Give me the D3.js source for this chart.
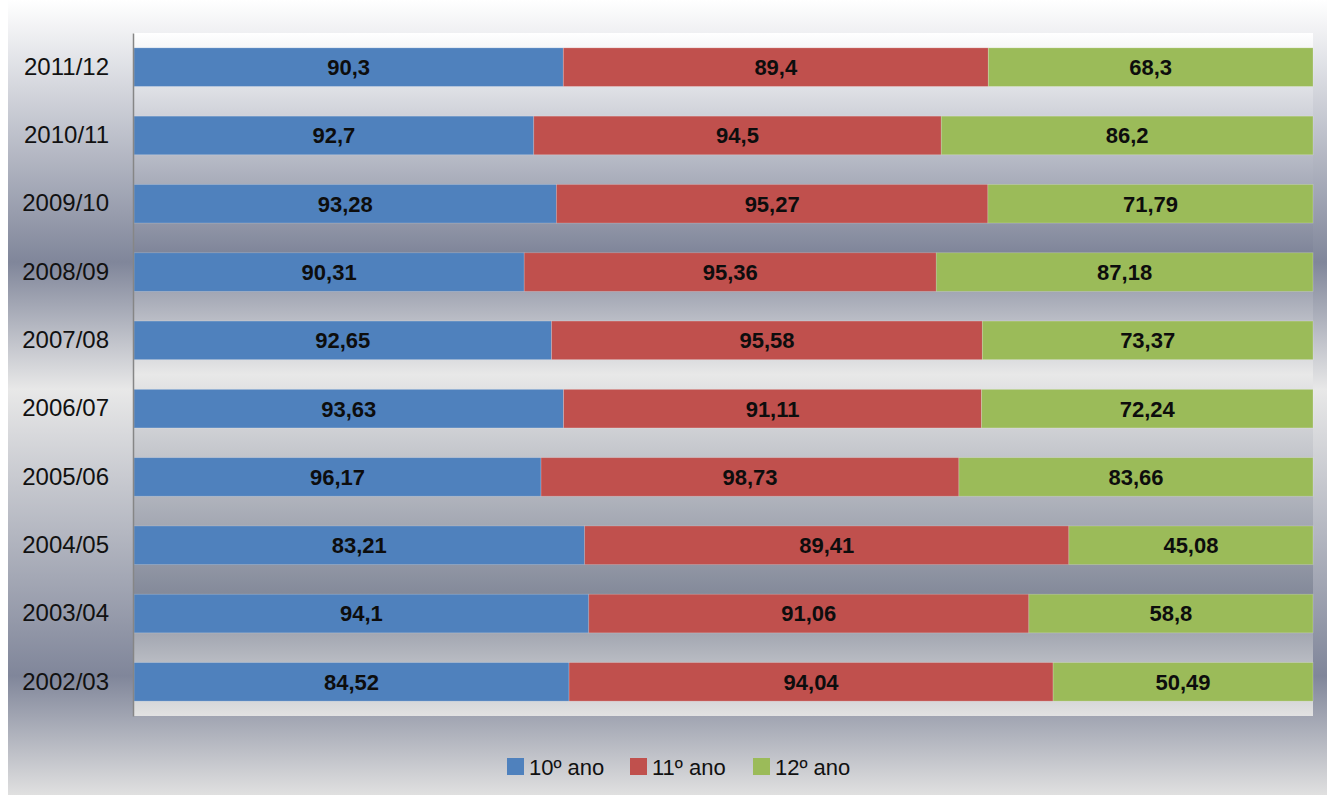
<!DOCTYPE html>
<html>
<head>
<meta charset="utf-8">
<script src="https://cdn.jsdelivr.net/npm/d3@7/dist/d3.min.js"></script>
<style>
  body { margin: 0; background: #fff; }
  svg { display: block; font-family: "Liberation Sans", Arial, sans-serif; }
</style>
</head>
<body>
<svg id="chart" width="1327" height="795"></svg>
<script>
  // years, top to bottom
  var years = ['2011/12', '2010/11', '2009/10', '2008/09', '2007/08', '2006/07', '2005/06', '2004/05', '2003/04', '2002/03']
  var ano10 = [90.3, 92.7, 93.28, 90.31, 92.65, 93.63, 96.17, 83.21, 94.1, 84.52]
  var ano11 = [89.4, 94.5, 95.27, 95.36, 95.58, 91.11, 98.73, 89.41, 91.06, 94.04]
  var ano12 = [68.3, 86.2, 71.79, 87.18, 73.37, 72.24, 83.66, 45.08, 58.8, 50.49]
  var seriesNames = ['10º ano', '11º ano', '12º ano']
  var colors = ['#4f81bd', '#c0504d', '#9bbb59']

  var svg = d3.select('#chart')
  var defs = svg.append('defs')

  // chrome-like grey gradient, used for chart and plot area
  function addGrad(id, stops) {
    var g = defs.append('linearGradient').attr('id', id)
      .attr('x1', 0).attr('y1', 0).attr('x2', 0).attr('y2', 1)
    stops.forEach(function(s) {
      g.append('stop').attr('offset', s[0]).attr('stop-color', s[1])
    })
  }
  addGrad('outerGrad', [[0, '#ffffff'], [0.33, '#80869a'], [0.49, '#e8e8e8'], [0.85, '#80869a'], [1, '#e0e0e0']])
  addGrad('plotGrad', [[0, '#ffffff'], [0.32, '#80869a'], [0.50, '#e8e8e8'], [0.82, '#848a9a'], [1, '#e2e2e2']])

  var plot = { left: 133, right: 1313, top: 33, bottom: 716 }

  svg.append('rect').attr('x', 8).attr('y', 0).attr('width', 1319).attr('height', 795)
    .attr('fill', 'url(#outerGrad)')
  svg.append('rect').attr('x', plot.left).attr('y', plot.top)
    .attr('width', plot.right - plot.left).attr('height', plot.bottom - plot.top)
    .attr('fill', 'url(#plotGrad)')

  var rows = years.map(function(y, i) {
    var vals = [ano10[i], ano11[i], ano12[i]]
    var total = d3.sum(vals)
    var acc = 0
    return {
      year: y,
      segs: vals.map(function(v, k) {
        var s = { k: k, v: v, x0: acc / total, x1: (acc + v) / total }
        acc += v
        return s
      })
    }
  })

  var x = d3.scaleLinear().domain([0, 1]).range([plot.left + 1, plot.right])
  var y = d3.scaleBand().domain(years).range([plot.top, plot.bottom])
    .paddingInner(0.435).paddingOuter(0.2175)

  var g = svg.selectAll('g.row').data(rows).enter().append('g')
    .attr('class', 'row')
    .attr('transform', function(d) { return 'translate(0,' + y(d.year) + ')' })

  g.selectAll('rect').data(function(d) { return d.segs }).enter().append('rect')
    .attr('x', function(d) { return x(d.x0) })
    .attr('width', function(d) { return x(d.x1) - x(d.x0) })
    .attr('height', y.bandwidth())
    .attr('fill', function(d) { return colors[d.k] })
    .attr('stroke', 'rgba(255,255,255,0.25)')
    .attr('stroke-width', 0.8)

  g.selectAll('text').data(function(d) { return d.segs }).enter().append('text')
    .attr('x', function(d) { return (x(d.x0) + x(d.x1)) / 2 })
    .attr('y', y.bandwidth() / 2)
    .attr('dy', '0.36em')
    .attr('text-anchor', 'middle')
    .attr('font-size', 22)
    .attr('font-weight', 'bold')
    .attr('fill', '#0d0d0d')
    .text(function(d) { return String(d.v).replace('.', ',') })

  var axis = svg.append('g')
    .attr('transform', 'translate(' + plot.left + ',0)')
    .call(d3.axisLeft(y).tickSize(0).tickPadding(24))
  axis.select('.domain').attr('stroke', '#868686').attr('stroke-width', 1.5)
  axis.selectAll('text').attr('font-size', 24).attr('fill', '#111')
    .attr('font-family', '"Liberation Sans", Arial, sans-serif')

  // legend
  var legendX = [507, 630, 753]
  var lg = svg.selectAll('g.legend').data(seriesNames).enter().append('g')
    .attr('class', 'legend')
    .attr('transform', function(d, i) { return 'translate(' + legendX[i] + ',758)' })
  lg.append('rect').attr('width', 17).attr('height', 17)
    .attr('fill', function(d, i) { return colors[i] })
  lg.append('text').attr('x', 22).attr('y', 17)
    .attr('font-size', 22).attr('fill', '#111')
    .text(function(d) { return d })
</script>
</body>
</html>
